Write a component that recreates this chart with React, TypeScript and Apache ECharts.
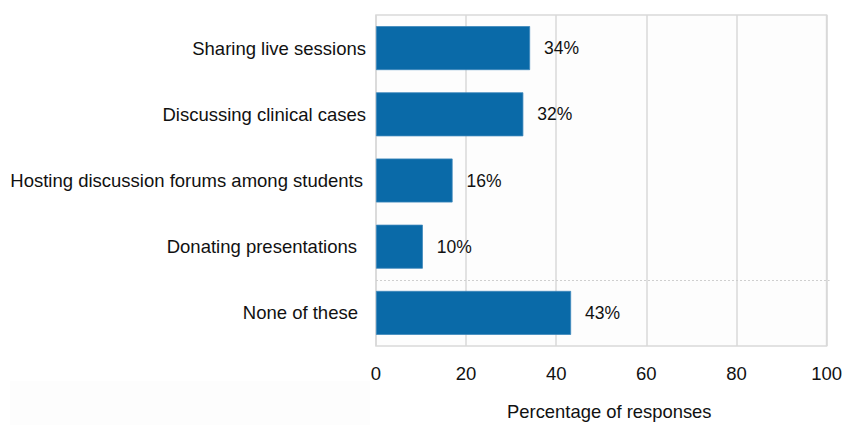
import React, { useEffect, useRef } from "react";
import * as echarts from "echarts";

const categories = [
  "Sharing live sessions",
  "Discussing clinical cases",
  "Hosting discussion forums among students",
  "Donating presentations",
  "None of these",
];
const values = [34.2, 32.7, 17, 10.4, 43.3];
const valueLabels = ["34%", "32%", "16%", "10%", "43%"];
const xTicks = [0, 20, 40, 60, 80, 100];

const FONT = "Liberation Sans, Arial, sans-serif";
const labelRightPad = [0, 0, 3, 9, 8];

export default function App() {
  const ref = useRef<HTMLDivElement>(null);
  useEffect(() => {
    if (!ref.current) return;
    const chart = echarts.init(ref.current, undefined, { renderer: "svg" });
    const rich: Record<string, any> = {};
    labelRightPad.forEach((p, i) => {
      rich["c" + i] = { fontFamily: FONT, fontSize: 18.5, color: "#111", padding: [0, p, 0, 0] };
    });
    chart.setOption({
      animation: false,
      backgroundColor: "#ffffff",
      grid: {
        left: 376,
        right: 16,
        top: 15,
        bottom: 76,
        show: true,
        borderColor: "#d9d9d9",
        borderWidth: 1.5,
        backgroundColor: "#fdfdfd",
      },
      xAxis: {
        type: "value",
        min: xTicks[0],
        max: xTicks[xTicks.length - 1],
        interval: 20,
        axisLine: { show: false },
        axisTick: { show: false },
        splitLine: { show: true, lineStyle: { color: "#d9d9d9", width: 1.5 } },
        axisLabel: { fontFamily: FONT, fontSize: 18.5, color: "#111", margin: 18 },
        name: "Percentage of responses",
        nameLocation: "middle",
        nameGap: 56,
        nameTextStyle: { fontFamily: FONT, fontSize: 18.4, color: "#111", padding: [0, 0, 0, 16] },
      },
      yAxis: {
        type: "category",
        data: categories,
        inverse: true,
        axisLine: { show: false },
        axisTick: { show: false },
        splitLine: { show: false },
        axisLabel: {
          fontFamily: FONT,
          fontSize: 18.5,
          color: "#111",
          margin: 10,
          formatter: (v: string) => {
            const i = categories.indexOf(v);
            return "{c" + i + "|" + v + "}";
          },
          rich,
        },
      },
      series: [
        {
          type: "bar",
          data: values,
          barWidth: 44,
          itemStyle: { color: "#0a6aa8", borderColor: "#3d88bb", borderWidth: 0.8 },
          label: {
            show: true,
            position: "right",
            distance: 14,
            formatter: (p: any) => valueLabels[p.dataIndex],
            fontFamily: FONT,
            fontSize: 17.5,
            color: "#111",
          },
        },
      ],
    });
    const y3 = chart.convertToPixel({ yAxisIndex: 0 }, categories[3]) as number;
    const y4 = chart.convertToPixel({ yAxisIndex: 0 }, categories[4]) as number;
    const x0 = chart.convertToPixel({ xAxisIndex: 0 }, xTicks[0]) as number;
    const x1 = chart.convertToPixel({ xAxisIndex: 0 }, xTicks[xTicks.length - 1]) as number;
    const yMid = Math.round((y3 + y4) / 2) + 0.5;
    chart.setOption({
      graphic: [
        { type: "rect", shape: { x: 10, y: 381, width: 360, height: 44 }, style: { fill: "#fdfdfd" }, z: -10, silent: true },
        {
          type: "line",
          shape: { x1: x0, y1: yMid, x2: x1 + 3, y2: yMid },
          style: { stroke: "#cfcfcf", lineWidth: 1, lineDash: [2, 2] },
          z: 1,
          silent: true,
        },
      ],
    });
    return () => chart.dispose();
  }, []);
  return <div ref={ref} style={{ width: 845, height: 425, position: "absolute", left: 0, top: 0 }} />;
}
